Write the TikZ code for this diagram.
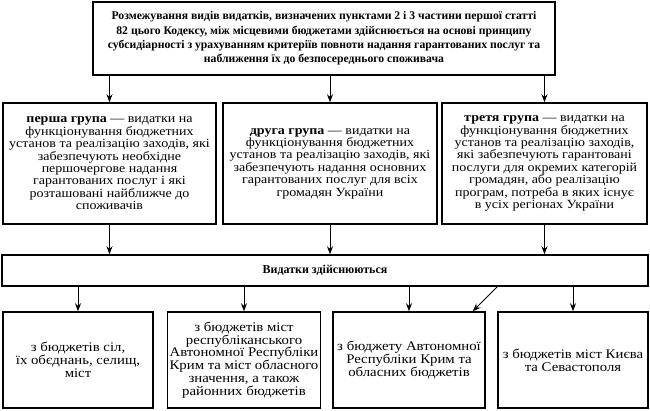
\documentclass[tikz,border=0pt]{standalone}
\usepackage{fontspec}
\setmainfont{Liberation Serif}
\newfontfamily\widefont{Liberation Serif}[FakeStretch=1.12]
\usepackage{tikz}
\usetikzlibrary{arrows.meta,positioning,calc}

\begin{document}
\begin{tikzpicture}[x=1pt, y=-1pt,
    box/.style={rectangle, draw, line width=1.5pt, fill=white, align=center, inner sep=2pt, font=\widefont\fontsize{12.5}{12.4}\selectfont},
    rootbox/.style={box, minimum width=462pt, minimum height=73pt, font=\fontsize{11.7}{14.3}\selectfont\bfseries},
    groupbox/.style={box, minimum height=121pt},
    barbox/.style={box, minimum width=646pt, minimum height=31pt, font=\fontsize{12}{12.4}\selectfont\bfseries},
    srcbox/.style={box, minimum width=151pt, minimum height=96pt, font=\widefont\fontsize{13.2}{12.7}\selectfont},
    link/.style={-{Stealth[length=8pt,width=6pt]}, line width=0.8pt}
]
    \useasboundingbox (0,0) rectangle (650,410);

    % Principle
    \node[rootbox] (top) at (324,38.5) {
        Розмежування видів видатків, визначених пунктами 2 і 3 частини першої статті\\
        82 цього Кодексу, між місцевими бюджетами здійснюється на основі принципу\\
        субсидіарності з урахуванням критеріїв повноти надання гарантованих послуг та\\
        наближення їх до безпосереднього споживача
    };

    % Groups
    \node[groupbox, minimum width=213pt] (g1) at (109.5,163.5) {
        \textbf{перша група} — видатки на\\
        функціонування бюджетних\\
        установ та реалізацію заходів, які\\
        забезпечують необхідне\\
        першочергове надання\\
        гарантованих послуг і які\\
        розташовані найближче до\\
        споживачів
    };
    \node[groupbox, minimum width=214pt] (g2) at (330,163.5) {
        \textbf{друга група} — видатки на\\
        функціонування бюджетних\\
        установ та реалізацію заходів, які\\
        забезпечують надання основних\\
        гарантованих послуг для всіх\\
        громадян України
    };
    \node[groupbox, minimum width=205pt] (g3) at (544.5,163.5) {
        \textbf{третя група} — видатки на\\
        функціонування бюджетних\\
        установ та реалізацію заходів,\\
        які забезпечують гарантовані\\
        послуги для окремих категорій\\
        громадян, або реалізацію\\
        програм, потреба в яких існує\\
        в усіх регіонах України
    };

    % Spending
    \node[barbox] (bar) at (325,270.5) {Видатки здійснюються};

    % Budgets
    \node[srcbox, minimum width=150pt] (b1) at (78,360) {
        з бюджетів сіл,\\
        їх обєднань, селищ,\\
        міст
    };
    \node[srcbox, minimum width=152pt] (b2) at (244,360) {
        з бюджетів міст\\
        республіканського\\
        Автономної Республіки\\
        Крим та міст обласного\\
        значення, а також\\
        районних бюджетів
    };
    \node[srcbox, minimum width=152pt] (b3) at (409,360) {
        з бюджету Автономної\\
        Республіки Крим та\\
        обласних бюджетів
    };
    \node[srcbox, minimum width=150pt] (b4) at (573,360) {
        з бюджетів міст Києва\\
        та Севастополя
    };

    % Links
    \draw[link] (top.south -| g1) -- (g1.north);
    \draw[link] (top.south -| g2) -- (g2.north);
    \draw[link] (top.south -| g3) -- (g3.north);
    \draw[link] (g1.south) -- (bar.north -| g1);
    \draw[link] (g2.south) -- (bar.north -| g2);
    \draw[link] (g3.south) -- (bar.north -| g3);
    \draw[link] (bar.south -| b1) -- (b1.north);
    \draw[link] (bar.south -| b2) -- (b2.north);
    \draw[link] (bar.south -| b3) -- (b3.north);
    \draw[link] (bar.south -| b4) -- (b4.north);
    \draw[link] (bar.south -| b4.west) -- ($(b3.north east)+(-13,0)$);
\end{tikzpicture}
\end{document}
